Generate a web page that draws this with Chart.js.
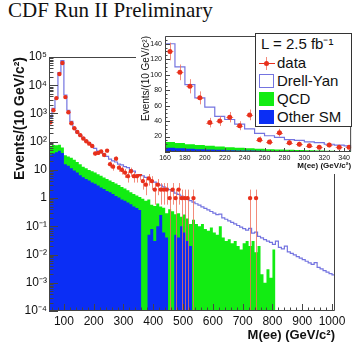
<!DOCTYPE html>
<html>
<head>
<meta charset="utf-8">
<script src="https://cdn.jsdelivr.net/npm/chart.js@4.4.1/dist/chart.umd.min.js"></script>
<style>
  html, body { margin: 0; padding: 0; width: 352px; height: 349px; overflow: hidden; background: #fff; }
  #title { position: absolute; left: 8px; top: 0px; font: 21px/20px "Liberation Serif", serif; color: #111; white-space: nowrap; }
  #main { position: absolute; left: 0; top: 0; }
  #insetBox { position: absolute; left: 136px; top: 28px; width: 216px; height: 146px; background: #fff; }
  #legend { position: absolute; left: 255px; top: 33px; width: 97px; height: 94px; box-sizing: border-box;
            border: 1px solid #333; background: #fff; font: 15px/18px "Liberation Sans", Arial, sans-serif; color: #111; }
  #legend .txt { position: absolute; white-space: nowrap; height: 18px; }
  #legend .box { position: absolute; left: 3px; width: 15px; height: 14px; box-sizing: border-box; }
</style>
</head>
<body>
<div id="title">CDF Run II Preliminary</div>
<canvas id="main" width="352" height="349"></canvas>
<div id="insetBox"><canvas id="inset" width="216" height="146"></canvas></div>
<div id="legend">
  <div class="txt" style="left:5px; top:1px;">L = 2.5 fb⁻¹</div>
  <div style="position:absolute; left:3px; top:29px; width:16px; height:1px; background:#e8301c;"></div>
  <div style="position:absolute; left:10px; top:23px; width:1px; height:13px; background:rgba(240,110,90,0.8);"></div>
  <div style="position:absolute; left:8px; top:27px; width:5px; height:5px; border-radius:50%; background:#e8301c;"></div>
  <div class="txt" style="left:21px; top:20px;">data</div>
  <div class="box" style="top:40px; border:1px solid #7474e0; background:#fff;"></div>
  <div class="txt" style="left:21px; top:38px;">Drell-Yan</div>
  <div class="box" style="top:58px; background:#12ec12;"></div>
  <div class="txt" style="left:21px; top:56px;">QCD</div>
  <div class="box" style="top:76px; background:#0b2ef5;"></div>
  <div class="txt" style="left:21px; top:74px;">Other SM</div>
</div>
<script>
// low edge of each 10 GeV bin, 50 .. 1000 GeV
const binWidth = 10;
const massLow = [];
for (let m = 50; m <= 1000; m += binWidth) massLow.push(m);

// events per bin
const dataCounts = [
  490, 1300, 3500, 25000, 61000, 3800, 1100, 450, 300, 220,   // 50-140
  170, 130, 103, 85, 70, 38, 40, 45, 34, 48,                 // 150-240
  16, 13, 25, 12, 10, 8, 6, 9, 6, 6,                         // 250-340
  7, 4, 3, 5, 4, 2, 3, 2, 2, 2,                              // 350-440
  1, 2, 1, 2, 1, 1, 1, 0, 1, 0,                              // 450-540
  0, 0, 0, 0, 0, 0, 0, 0, 0, 0,                              // 550-640
  0, 0, 0, 0, 0, 0, 0, 1, 0, 1,                              // 650-740
  0, 0, 0, 0, 0, 0, 0, 0, 0, 0,                              // 750-840
  0, 0, 0, 0, 0, 0, 0, 0, 0, 0,                              // 850-940
  0, 0, 0, 0, 0, 0                                           // 950-1000
];

// Drell-Yan (total expectation outline)
const drellYan = [
  700, 1500, 3500, 28000, 75000, 4500, 1300, 520, 300, 210,
  170, 140, 110, 87, 70, 58, 46, 42, 36, 30,
  24, 21, 19, 16, 15, 13, 12, 10, 9, 8,
  7.0, 6.2, 5.4, 4.8, 4.2, 3.7, 3.3, 2.9, 2.5, 2.2,
  2.0, 1.75, 1.5, 1.35, 1.19, 1.05, 0.92, 0.81, 0.72, 0.63,
  0.56, 0.49, 0.43, 0.38, 0.335, 0.295, 0.26, 0.27, 0.2, 0.178,
  0.157, 0.138, 0.122, 0.107, 0.094, 0.083, 0.073, 0.085, 0.057, 0.062,
  0.044, 0.039, 0.034, 0.030, 0.027, 0.023, 0.03, 0.018, 0.016, 0.02,
  0.0125, 0.011, 0.0097, 0.0085, 0.0075, 0.0066, 0.0058, 0.0051, 0.0045, 0.0052,
  0.0035, 0.0031, 0.0027, 0.0024, 0.0021, 0.0019
];

const qcd = [
  37, 38, 32, 30, 22, 17, 16, 15.5, 13.5, 11,
  9.5, 7.5, 6.7, 5.8, 5.4, 4.8, 4.2, 3.8, 3.3, 3.0,
  2.6, 2.3, 2.1, 1.85, 1.6, 1.4, 1.2, 1.0, 0.9, 0.8,
  0.72, 0.65, 0.8, 0.85, 0.5, 0.5, 0.55, 0.25, 0.4, 0.25,
  0.33, 0.34, 0.22, 0.25, 0.12, 0.2, 0.16, 0.1, 0.12, 0.12,
  0.1, 0.12, 0.08, 0.07, 0.09, 0.06, 0.05, 0.07, 0.04, 0.03,
  0.035, 0.025, 0.03, 0.02, 0.015, 0.025, 0.03, 0.02, 0.03, 0.012,
  0.02, 0.002, 0.001, 0.003, 0.0015, 0.015, 0.012, 0, 0, 0.006,
  0, 0, 0, 0, 0, 0, 0, 0, 0, 0.0007,
  0, 0, 0, 0, 0, 0
];

const otherSM = [
  35, 38, 42, 48, 40, 16, 14, 11.5, 9.5, 8,
  6.5, 5.5, 4.8, 4.2, 3.6, 3.2, 2.8, 2.4, 2.1, 1.8,
  1.6, 1.4, 1.2, 1.05, 0.9, 0.8, 0.7, 0.6, 0.5, 0.45,
  0.38, 0.3, 0, 0.05, 0.08, 0.03, 0.1, 0.25, 0.06, 0.04,
  0.07, 0, 0.05, 0.04, 0.1, 0.06, 0.03, 0.02, 0.05, 0,
  0, 0, 0, 0, 0, 0, 0, 0.03, 0, 0,
  0, 0, 0, 0, 0, 0, 0, 0, 0, 0,
  0, 0, 0, 0, 0, 0, 0, 0, 0, 0,
  0, 0, 0, 0, 0, 0, 0, 0, 0, 0,
  0, 0, 0, 0, 0, 0
];

// tick labels
const mainYTicks = [1e-4, 1e-3, 1e-2, 1e-1, 1, 10, 1e2, 1e3, 1e4, 1e5];
const mainYLabels = ['10⁻⁴', '10⁻³', '10⁻²', '10⁻¹', '1', '10', '10²', '10³', '10⁴', '10⁵'];
const mainXTicks = [100, 200, 300, 400, 500, 600, 700, 800, 900, 1000];
const insetXTicks = [160, 180, 200, 220, 240, 260, 280, 300, 320, 340];
const insetYTicks = [20, 40, 60, 80, 100, 120, 140];

const colBlue = '#0b2ef5';
const colGreen = '#12ec12';
const colDY = '#7474e0';
const colData = '#e8301c';
const sansFont = '"Liberation Sans", Arial, sans-serif';

// histogram outline: one point per low edge plus the closing edge
function histPoints(values) {
  const pts = values.map((v, i) => ({ x: massLow[i], y: v }));
  pts.push({ x: massLow[massLow.length - 1] + binWidth, y: values[values.length - 1] });
  return pts;
}

const bkgStack = otherSM.map((v, i) => v + qcd[i]);
const dataPoints = [];
dataCounts.forEach((n, i) => {
  if (n > 0) dataPoints.push({ x: massLow[i] + binWidth / 2, y: n });
});

function makeDatasets(pointRadius) {
  return [
    { label: 'data', data: dataPoints, showLine: false, pointRadius: pointRadius,
      pointBackgroundColor: colData, pointBorderWidth: 0, errorBars: true, order: 0 },
    { label: 'Drell-Yan', data: histPoints(drellYan), stepped: true, borderColor: colDY,
      borderWidth: 1.2, pointRadius: 0, fill: false, order: 1 },
    { label: 'Other SM', data: histPoints(otherSM), stepped: true, borderWidth: 0,
      backgroundColor: colBlue, pointRadius: 0, fill: 'start', order: 2 },
    { label: 'QCD', data: histPoints(bkgStack), stepped: true, borderWidth: 0,
      backgroundColor: colGreen, pointRadius: 0, fill: 'start', order: 3 }
  ];
}

// ROOT style frame with inward ticks
const rootAxes = {
  id: 'rootAxes',
  afterDatasetsDraw(chart, args, opts) {
    const { ctx, chartArea: a, scales: { x, y } } = chart;
    ctx.save();
    ctx.strokeStyle = opts.color;
    ctx.lineWidth = 1;
    ctx.beginPath();
    ctx.rect(a.left + 0.5, a.top + 0.5, a.right - a.left - 1, a.bottom - a.top - 1);
    const tick = (list, len, vertical) => list.forEach(v => {
      if (vertical) {
        const py = Math.round(y.getPixelForValue(v)) + 0.5;
        ctx.moveTo(a.left, py); ctx.lineTo(a.left + len, py);
      } else {
        const px = Math.round(x.getPixelForValue(v)) + 0.5;
        ctx.moveTo(px, a.bottom); ctx.lineTo(px, a.bottom - len);
      }
    });
    tick(opts.yMajor, opts.yMajorLen, true);
    tick(opts.yMinor, opts.yMinorLen, true);
    tick(opts.xMajor, opts.xMajorLen, false);
    tick(opts.xMinor, opts.xMinorLen, false);
    ctx.stroke();
    ctx.restore();
  }
};

// sqrt(N) error bars under the data markers
const errorBars = {
  id: 'errorBars',
  beforeDatasetDraw(chart, args, opts) {
    const ds = chart.data.datasets[args.index];
    if (!ds.errorBars) return;
    const { ctx, chartArea: a } = chart;
    const y = chart.scales.y;
    ctx.save();
    ctx.beginPath();
    ctx.rect(a.left, a.top, a.right - a.left, a.bottom - a.top);
    ctx.clip();
    ctx.strokeStyle = opts.color;
    ctx.lineWidth = 1;
    args.meta.data.forEach((pt, j) => {
      const n = ds.data[j].y;
      const err = Math.sqrt(n);
      const top = y.getPixelForValue(n + err);
      const bot = n - err > 0 ? y.getPixelForValue(n - err) : a.bottom;
      const px = Math.round(pt.x) + 0.5;
      ctx.beginPath();
      ctx.moveTo(px, top);
      ctx.lineTo(px, bot);
      if (opts.cap) {
        ctx.moveTo(pt.x - opts.cap, Math.round(pt.y) + 0.5);
        ctx.lineTo(pt.x + opts.cap, Math.round(pt.y) + 0.5);
      }
      ctx.stroke();
    });
    ctx.restore();
  }
};

// minor tick positions
const logMinor = [];
mainYTicks.slice(0, -1).forEach(d => { for (let k = 2; k <= 9; k++) logMinor.push(d * k); });
const mainXMinor = [];
for (let m = 60; m <= 1000; m += 20) if (m % 100) mainXMinor.push(m);
const insetYMinor = [];
for (let v = 5; v < 150; v += 5) if (v % 20) insetYMinor.push(v);
const insetXMinor = [];
for (let m = 165; m < 347; m += 5) if (m % 20) insetXMinor.push(m);

new Chart(document.getElementById('main'), {
  type: 'line',
  data: { datasets: makeDatasets(2.2) },
  plugins: [rootAxes, errorBars],
  options: {
    responsive: false,
    animation: false,
    layout: { padding: { top: 57, right: 17, left: 0, bottom: 0 }, autoPadding: false },
    plugins: {
      legend: { display: false },
      tooltip: { enabled: false },
      rootAxes: { color: '#444', yMajor: mainYTicks, yMinor: logMinor, yMajorLen: 9, yMinorLen: 4.5,
                  xMajor: mainXTicks, xMinor: mainXMinor, xMajorLen: 7, xMinorLen: 3.5 },
      errorBars: { color: 'rgba(240,110,90,0.8)', cap: 0 }
    },
    scales: {
      x: {
        type: 'linear', min: 50, max: 1010,
        afterBuildTicks: s => { s.ticks = mainXTicks.map(v => ({ value: v })); },
        afterFit: s => { s.height = 38; },
        grid: { display: false, drawTicks: false }, border: { display: false },
        ticks: { autoSkip: false, maxRotation: 0, padding: 3, color: '#111',
                 font: { family: sansFont, size: 12 }, callback: v => String(v) },
        title: { display: true, text: 'M(ee) (GeV/c²)', align: 'end', color: '#111',
                 padding: { top: 0, bottom: 6 }, font: { family: sansFont, size: 13, weight: 'bold' } }
      },
      y: {
        type: 'logarithmic', min: 1e-4, max: 1e5,
        afterBuildTicks: s => { s.ticks = mainYTicks.map(v => ({ value: v })); },
        afterFit: s => { s.width = 49; },
        grid: { display: false, drawTicks: false }, border: { display: false },
        ticks: { autoSkip: false, padding: 2, color: '#111', font: { family: sansFont, size: 12 },
                 callback: v => mainYLabels[mainYTicks.indexOf(v)] },
        title: { display: true, text: 'Events/(10 GeV/c²)', align: 'end', color: '#111',
                 padding: { top: 12, bottom: 0 }, font: { family: sansFont, size: 14, weight: 'bold' } }
      }
    }
  }
});

new Chart(document.getElementById('inset'), {
  type: 'line',
  data: { datasets: makeDatasets(2.5) },
  plugins: [rootAxes, errorBars],
  options: {
    responsive: false,
    animation: false,
    layout: { padding: { top: 8, right: 0, left: 0, bottom: 0 }, autoPadding: false },
    plugins: {
      legend: { display: false },
      tooltip: { enabled: false },
      rootAxes: { color: '#444', yMajor: [0].concat(insetYTicks), yMinor: insetYMinor, yMajorLen: 5, yMinorLen: 2.5,
                  xMajor: insetXTicks, xMinor: insetXMinor, xMajorLen: 4, xMinorLen: 2 },
      errorBars: { color: 'rgba(240,110,90,0.8)', cap: 3.5 }
    },
    scales: {
      x: {
        type: 'linear', min: 160, max: 347,
        afterBuildTicks: s => { s.ticks = insetXTicks.map(v => ({ value: v })); },
        afterFit: s => { s.height = 22; },
        grid: { display: false, drawTicks: false }, border: { display: false },
        ticks: { autoSkip: false, maxRotation: 0, padding: 2, color: '#111',
                 font: { family: sansFont, size: 7 } },
        title: { display: true, text: 'M(ee) (GeV/c²)', align: 'end', color: '#111',
                 padding: { top: 0, bottom: 3 }, font: { family: sansFont, size: 8, weight: 'bold' } }
      },
      y: {
        type: 'linear', min: 0, max: 150,
        afterBuildTicks: s => { s.ticks = insetYTicks.map(v => ({ value: v })); },
        afterFit: s => { s.width = 29; },
        grid: { display: false, drawTicks: false }, border: { display: false },
        ticks: { autoSkip: false, padding: 3, color: '#111', font: { family: sansFont, size: 7 } },
        title: { display: true, text: 'Events/(10 GeV/c²)', align: 'end', color: '#111',
                 padding: { top: 4, bottom: 0 }, font: { family: sansFont, size: 10 } }
      }
    }
  }
});
</script>
</body>
</html>
